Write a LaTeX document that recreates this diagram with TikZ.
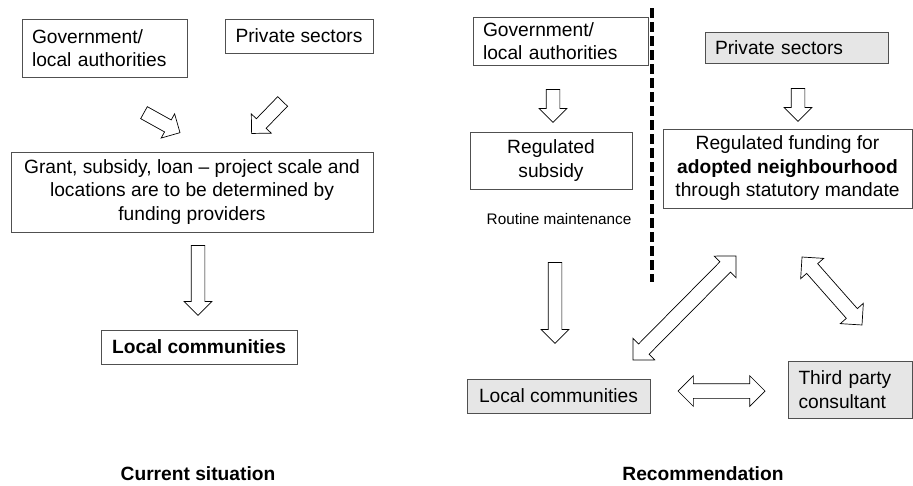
\documentclass[tikz,border=0pt]{standalone}
\usepackage{fontspec}
\setmainfont{Liberation Sans}
\usetikzlibrary{shapes.arrows,calc}

\definecolor{boxline}{RGB}{80,80,80}
\definecolor{boxfill}{RGB}{230,230,230}

\begin{document}
\begin{tikzpicture}[x=1pt,y=1pt,yscale=-1,xscale=1,
        font=\fontsize{19.2}{23.5}\selectfont,
        box/.style={draw=boxline, line width=0.9pt, inner xsep=10pt, inner ysep=0pt, align=center},
        greybox/.style={box, fill=boxfill},
        blk/.style={single arrow, draw=black, line width=0.7pt, fill=white, inner xsep=0pt, inner ysep=6.5pt,
                single arrow head extend=7pt, single arrow tip angle=90, midway},
        dblk/.style={double arrow, draw=black, line width=0.7pt, fill=white, inner xsep=0pt, inner ysep=7pt,
                double arrow head extend=8pt, double arrow tip angle=90, midway},
        divider/.style={line width=3.5pt, dash pattern=on 10pt off 4pt}]
        \useasboundingbox (0,0) rectangle (913,485);

        %Shape: Rectangle [current situation]
        \node[box, align=left, text width=145pt, minimum height=58pt] (govL) at (104.5,48) {Government/\\local authorities};
        \node[box, minimum width=148pt, minimum height=34pt] (privL) at (299,36) {Private sectors};
        \node[box, minimum width=362pt, minimum height=80pt] (grant) at (192,192) {Grant, subsidy, loan -- project scale and\\locations are to be determined by\\funding providers};
        \node[box, minimum width=196pt, minimum height=34pt] (localL) at (199,347) {\textbf{Local communities}};

        %Shape: Rectangle [recommendation]
        \node[box, align=left, text width=155pt, minimum height=48pt] (govR) at (560.5,41) {Government/\\local authorities};
        \node[box, minimum width=162pt, minimum height=57pt] (subsidy) at (551,160.5) {Regulated\\subsidy};
        \node[greybox, align=left, text width=163pt, minimum height=31pt] (privR) at (796.5,47.5) {Private sectors};
        \node[box, minimum width=249pt, minimum height=79pt] (funding) at (787.5,168.5) {Regulated funding for\\\textbf{adopted neighbourhood}\\through statutory mandate};
        \node[greybox, minimum width=183pt, minimum height=34pt] (localR) at (558.5,396) {Local communities};
        \node[greybox, align=left, text width=104pt, minimum height=57pt] (third) at (850.5,389.5) {Third party\\consultant};

        % Text Node
        \node[font=\fontsize{15.3}{18}\selectfont] (routine) at (559,219) {Routine maintenance};
        % Text Node
        \node (current) at (198,474) {\textbf{Current situation}};
        % Text Node
        \node (recomm) at (703,474) {\textbf{Recommendation}};

        %Straight Lines [divider]
        \coordinate (dtop) at (652,8);
        \coordinate (dbot) at (652,282);
        \draw[divider] (dtop) -- (dbot);

        %Block arrows: ends (angle flipped, y axis points down)
        \coordinate (gA) at (141,111);  \coordinate (gB) at (177,131);
        \coordinate (pA) at (285,99);   \coordinate (pB) at (254,131);
        \coordinate (cA) at (198,242);  \coordinate (cB) at (198,312);
        \coordinate (sA) at (553,86);   \coordinate (sB) at (553,119);
        \coordinate (fA) at (798,85);   \coordinate (fB) at (798,118);
        \coordinate (rA) at (555,259);  \coordinate (rB) at (555,340);
        \coordinate (hA) at (678,391);  \coordinate (hB) at (765,391);
        \coordinate (xA) at (633,360);  \coordinate (xB) at (736,256);
        \coordinate (yA) at (802,257);  \coordinate (yB) at (862,325);

        \foreach \a/\b in {gA/gB, pA/pB, cA/cB, sA/sB, fA/fB, rA/rB}
          \path let \p1=($(\b)-(\a)$) in (\a) -- (\b)
            node[blk, rotate={-atan2(\y1,\x1)}, minimum height={veclen(\x1,\y1)}] {};
        \foreach \a/\b in {hA/hB, xA/xB, yA/yB}
          \path let \p1=($(\b)-(\a)$) in (\a) -- (\b)
            node[dblk, rotate={-atan2(\y1,\x1)}, minimum height={veclen(\x1,\y1)}] {};
\end{tikzpicture}
\end{document}
